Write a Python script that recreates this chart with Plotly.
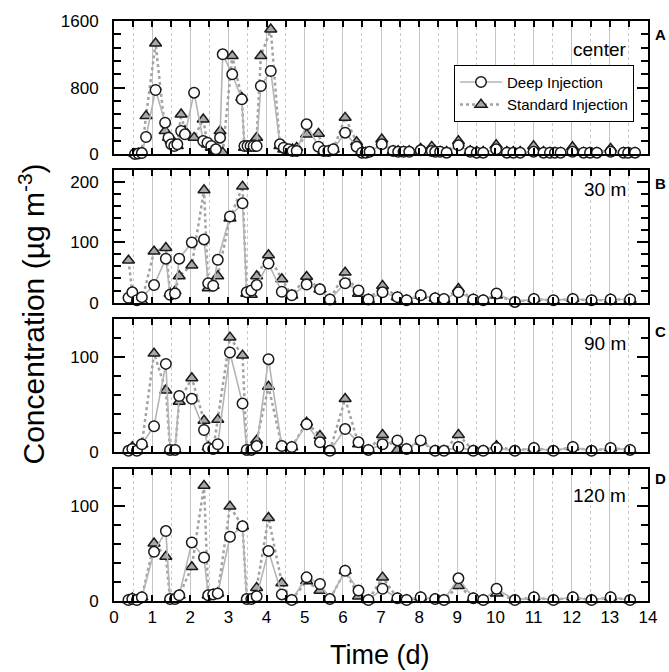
import plotly.graph_objects as go
from plotly.subplots import make_subplots

# ---------------- data ----------------
# Panel A (center) sampling times (d)
t_a = [0.55, 0.64, 0.73, 0.84, 1.09, 1.34, 1.43, 1.50, 1.58, 1.66, 1.76, 1.86,
       2.10, 2.34, 2.45, 2.55, 2.67, 2.78, 2.85, 3.10, 3.35, 3.42, 3.50, 3.58,
       3.66, 3.74, 3.85, 4.11, 4.35, 4.45, 4.58, 4.68, 4.79, 5.05, 5.36, 5.50,
       5.62, 5.75, 6.06, 6.36, 6.50, 6.60, 6.70, 7.02, 7.32, 7.45, 7.59, 7.74,
       8.04, 8.33, 8.42, 8.55, 8.72, 9.03, 9.34, 9.51, 9.68, 10.02, 10.30, 10.47,
       10.65, 11.00, 11.26, 11.43, 11.56, 11.71, 12.02, 12.31, 12.48, 12.66, 13.02,
       13.36, 13.48, 13.66]
deep_a = [5, 10, 15, 208, 772, 380, 200, 120, 100, 120, 280, 240,
          740, 160, 140, 100, 60, 200, 1200, 960, 660, 100, 100, 100,
          100, 100, 820, 1000, 120, 80, 60, 40, 40, 360, 92, 40,
          40, 60, 260, 92, 20, 20, 30, 120, 40, 30, 30, 30,
          48, 40, 30, 30, 20, 108, 30, 20, 20, 60, 20, 20,
          20, 30, 20, 20, 20, 20, 30, 20, 20, 20, 30,
          20, 20, 20]
std_a = [5, 10, 20, 460, 1332, 280, 200, 160, 140, 100, 480, 280,
         200, 420, 120, 80, 40, 280, 20, 1180, 680, 80, 90, 90,
         100, 200, 1180, 1500, 100, 60, 40, 60, 80, 240, 248, 40,
         40, 60, 440, 148, 40, 20, 20, 180, 40, 40, 30, 40,
         68, 92, 40, 30, 30, 160, 40, 30, 30, 112, 30, 30,
         30, 100, 30, 20, 20, 20, 88, 20, 20, 20, 68,
         20, 20, 20]

# Panels B-D (30 m, 90 m, 120 m) sampling times (d)
t_bcd = [0.38, 0.48, 0.60, 0.73, 1.05, 1.36, 1.47, 1.60, 1.71, 2.04, 2.36, 2.47,
         2.60, 2.72, 3.04, 3.37, 3.48, 3.60, 3.74, 4.05, 4.40, 4.66, 5.05, 5.40,
         5.66, 6.06, 6.41, 6.67, 7.04, 7.43, 7.67, 8.04, 8.42, 8.65, 9.03, 9.42,
         9.68, 10.03, 10.51, 11.01, 11.52, 12.03, 12.52, 13.02, 13.53]
deep_b = [8, 17, 4, 9, 29, 73, 13, 15, 73, 100, 105, 32,
          28, 71, 143, 165, 17, 20, 29, 65, 18, 12, 30, 22,
          5, 32, 20, 5, 17, 9, 4, 12, 7, 6, 17, 5,
          4, 15, 1, 6, 4, 6, 4, 5, 5]
std_b = [70, 17, 2, 2, 85, 91, 15, 19, 44, 62, 187, 24,
         28, 44, 140, 193, 15, 13, 44, 79, 39, 12, 43, 22,
         5, 50, 15, 5, 28, 9, 4, 12, 7, 5, 23, 5,
         4, 12, 1, 6, 3, 6, 3, 5, 5]
deep_c = [1, 3, 1, 8, 27, 93, 2, 2, 59, 56, 23, 4,
          3, 8, 105, 51, 2, 2, 6, 98, 6, 5, 29, 10,
          1, 24, 10, 2, 8, 12, 3, 12, 1, 1, 5, 1,
          1, 4, 1, 4, 1, 5, 1, 4, 2]
std_c = [1, 5, 1, 8, 104, 65, 2, 2, 53, 78, 33, 5,
         2, 34, 121, 102, 2, 2, 12, 69, 6, 5, 31, 17,
         1, 56, 8, 2, 18, 2, 3, 11, 1, 1, 18, 1,
         1, 6, 1, 4, 1, 5, 1, 4, 2]
deep_d = [1, 2, 1, 4, 52, 74, 2, 2, 6, 62, 46, 6,
          7, 8, 68, 79, 2, 2, 5, 53, 7, 1, 25, 18,
          2, 32, 11, 1, 13, 3, 1, 4, 2, 1, 24, 3,
          1, 13, 1, 4, 1, 4, 1, 4, 1]
std_d = [1, 3, 1, 4, 61, 47, 2, 3, 6, 36, 122, 6,
         7, 8, 100, 79, 2, 2, 14, 88, 19, 1, 21, 11,
         2, 32, 5, 1, 25, 3, 1, 4, 2, 1, 16, 3,
         1, 8, 1, 4, 1, 4, 1, 4, 1]

panel_names = ["center", "30 m", "90 m", "120 m"]
panel_letters = ["A", "B", "C", "D"]
y_ranges = [[0, 1600], [0, 220], [0, 140], [0, 140]]
y_dticks = [800, 100, 100, 100]
y_minor = [160, 20, 20, 20]
x_ticks = list(range(0, 15))
series_names = ["Deep Injection", "Standard Injection"]

# ---------------- figure ----------------
FONT = "Liberation Sans, Arial, Helvetica, sans-serif"
W, H = 669, 672
ML, MR, MT, MB = 114, 21, 18, 71
ph = H - MT - MB

panels_px = [(18, 152), (168, 301), (318, 451), (468, 601)]

def py(p):
    return 1 - (p - MT) / ph

def px(p):
    return (p - ML) / (W - ML - MR)

fig = make_subplots(rows=4, cols=1)

data = [(t_a, deep_a, std_a), (t_bcd, deep_b, std_b),
        (t_bcd, deep_c, std_c), (t_bcd, deep_d, std_d)]

for i, (t, dv, sv) in enumerate(data):
    r = i + 1
    fig.add_trace(go.Scatter(
        x=t, y=sv, name=series_names[1], mode="lines+markers",
        line=dict(color="#a2a2a2", width=2.5, dash="dot"),
        marker=dict(symbol="triangle-up", size=10.5, color="#a8a8a8",
                    line=dict(color="#1a1a1a", width=1.5)),
        cliponaxis=False, showlegend=(i == 0), legendrank=2,
    ), row=r, col=1)
    fig.add_trace(go.Scatter(
        x=t, y=dv, name=series_names[0], mode="lines+markers",
        line=dict(color="#b4b4b4", width=1.6),
        marker=dict(symbol="circle", size=10.5, color="white",
                    line=dict(color="#1a1a1a", width=1.5)),
        cliponaxis=False, showlegend=(i == 0), legendrank=1,
    ), row=r, col=1)

for i in range(4):
    top, bot = panels_px[i]
    xa = "xaxis" if i == 0 else f"xaxis{i+1}"
    ya = "yaxis" if i == 0 else f"yaxis{i+1}"
    fig.layout[xa].update(
        domain=[0, 1], range=[0, 14], tickvals=x_ticks,
        ticktext=[str(v) for v in x_ticks], showticklabels=(i == 3),
        ticks="inside", ticklen=6, tickwidth=2, tickcolor="black",
        showline=True, linecolor="black", linewidth=2, mirror="ticks",
        showgrid=True, gridcolor="#c4c4c4", gridwidth=1,
        minor=dict(dtick=0.5, tick0=0, showgrid=True, gridcolor="#c8c8c8",
                   griddash="dot", gridwidth=1, ticks="inside", ticklen=6,
                   tickwidth=2, tickcolor="black"),
        zeroline=False,
        tickfont=dict(family=FONT, size=17, color="black"),
    )
    fig.layout[ya].update(
        domain=[py(bot), py(top)], range=y_ranges[i], dtick=y_dticks[i], tick0=0,
        ticks="inside", ticklen=11, tickwidth=2, tickcolor="black",
        showline=True, linecolor="black", linewidth=2, mirror="ticks",
        showgrid=False, zeroline=False,
        minor=dict(dtick=y_minor[i], tick0=0, ticks="inside", ticklen=7,
                   tickwidth=2, tickcolor="black", showgrid=False),
        tickfont=dict(family=FONT, size=17, color="black"),
        ticklabelstandoff=10,
    )

annotations = []
name_y = [47, 187, 342, 495]
letter_y = [32, 181, 330, 478]
for i in range(4):
    annotations.append(dict(
        text=panel_names[i], xref="paper", yref="paper", x=px(628), y=py(name_y[i]),
        xanchor="right", yanchor="middle", showarrow=False,
        font=dict(family=FONT, size=19, color="black")))
    annotations.append(dict(
        text=f"<b>{panel_letters[i]}</b>", xref="paper", yref="paper", x=px(660),
        y=py(letter_y[i]), xanchor="center", yanchor="middle", showarrow=False,
        font=dict(family=FONT, size=15, color="black")))

annotations.append(dict(
    text="Time (d)", xref="paper", yref="paper", x=px(380), y=py(655),
    xanchor="center", yanchor="middle", showarrow=False,
    font=dict(family=FONT, size=27, color="black")))
annotations.append(dict(
    text="Concentration (µg m<sup>-3</sup>)", xref="paper", yref="paper",
    x=px(32), y=py(313), xanchor="center", yanchor="middle", textangle=-90,
    showarrow=False, font=dict(family=FONT, size=30, color="black")))

fig.update_layout(
    width=W, height=H,
    margin=dict(l=ML, r=MR, t=MT, b=MB),
    paper_bgcolor="white", plot_bgcolor="white",
    annotations=annotations,
    legend=dict(x=px(454), y=py(62), xanchor="left", yanchor="top",
                bgcolor="white", bordercolor="black", borderwidth=1,
                font=dict(family=FONT, size=15, color="black"),
                itemwidth=42,
                traceorder="normal", tracegroupgap=0),
)

fig.write_html("out.html")
